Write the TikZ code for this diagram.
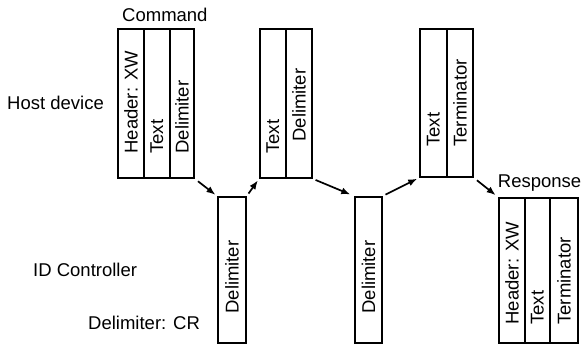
\documentclass[tikz,border=0pt]{standalone}
\usepackage{fontspec}
\setmainfont{Liberation Sans}
\usepackage{tikz}
\usetikzlibrary{arrows.meta}
\tikzset{cell/.style={draw, line width=1.8pt, inner sep=0pt, minimum width=26pt, anchor=north west}}
\tikzset{celltext/.style={rotate=90, anchor=west, inner sep=0pt}}
\tikzset{flow/.style={-{Latex[length=9pt,width=7pt]}, line width=1.7pt}}
\begin{document}
\begin{tikzpicture}[x=1pt, y=-1pt, font=\fontsize{18.5}{22}\selectfont]
\useasboundingbox (0,0) rectangle (582,344);
% labels
\node[anchor=west, inner sep=0pt] (host) at (7,103) {Host device};
\node[anchor=west, inner sep=0pt] (idc) at (33,270) {ID Controller};
\node[anchor=west, inner sep=0pt] (delcr) at (88,323) {Delimiter: CR};
\node[anchor=west, inner sep=0pt] (cmd) at (122,15) {Command};
\node[anchor=east, inner sep=0pt] (resp) at (581.5,183) {Response};
% command frame
\node[cell, minimum width=26pt, minimum height=149pt] (cmdhead) at (117,28) {};
\node[cell, minimum width=26pt, minimum height=149pt] (cmdtext) at (143,28) {};
\node[cell, minimum width=24pt, minimum height=149pt] (cmddelim) at (169,28) {};
\node[celltext] (cmdheadt) at ([yshift=25pt]cmdhead.south) {Header: XW};
\node[celltext] (cmdtextt) at ([yshift=25pt]cmdtext.south) {Text};
\node[celltext] (cmddelimt) at ([yshift=25pt]cmddelim.south) {Delimiter};
% first delimiter at ID controller
\node[cell, minimum width=28pt, minimum height=146pt] (iddelim1) at (217,196) {};
\node[celltext] (iddelim1t) at ([yshift=30pt]iddelim1.south) {Delimiter};
% second frame
\node[cell, minimum width=26pt, minimum height=149pt] (sectext) at (259,28) {};
\node[cell, minimum width=26pt, minimum height=149pt] (secdelim) at (285,28) {};
\node[celltext] (sectextt) at ([yshift=25pt]sectext.south) {Text};
\node[celltext] (secdelimt) at ([yshift=37pt]secdelim.south) {Delimiter};
% second delimiter at ID controller
\node[cell, minimum width=27pt, minimum height=146pt] (iddelim2) at (354,196) {};
\node[celltext] (iddelim2t) at ([yshift=30pt]iddelim2.south) {Delimiter};
% last frame
\node[cell, minimum width=27pt, minimum height=148pt] (lasttext) at (419,28) {};
\node[cell, minimum width=26pt, minimum height=148pt] (lastterm) at (446,28) {};
\node[celltext] (lasttextt) at ([yshift=31pt]lasttext.south) {Text};
\node[celltext] (lasttermt) at ([yshift=31pt]lastterm.south) {Terminator};
% response frame
\node[cell, minimum width=26pt, minimum height=145pt] (resphead) at (498,197) {};
\node[cell, minimum width=25pt, minimum height=145pt] (resptext) at (524,197) {};
\node[cell, minimum width=28pt, minimum height=145pt] (respterm) at (549,197) {};
\node[celltext] (respheadt) at ([yshift=19pt]resphead.south) {Header: XW};
\node[celltext] (resptextt) at ([yshift=19pt]resptext.south) {Text};
\node[celltext] (resptermt) at ([yshift=19pt]respterm.south) {Terminator};
% arrows
\draw[flow, shorten <=4pt, shorten >=2pt] (cmddelim.south east) -- (iddelim1.north west);
\draw[flow, shorten <=3pt, shorten >=2pt] (iddelim1.north east) -- (sectext.south west);
\draw[flow, shorten <=3pt, shorten >=4pt] (secdelim.south east) -- (iddelim2.north west);
\draw[flow, shorten <=3pt, shorten >=2pt] (iddelim2.north east) -- (lasttext.south west);
\draw[flow, shorten <=4pt, shorten >=3pt] (lastterm.south east) -- (resphead.north west);
\end{tikzpicture}
\end{document}
